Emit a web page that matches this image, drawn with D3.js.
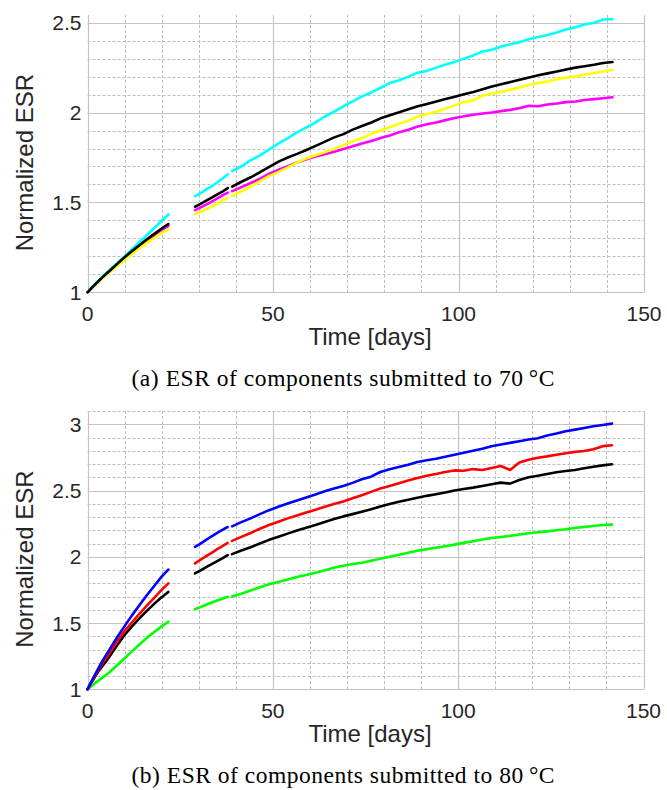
<!DOCTYPE html>
<html><head><meta charset="utf-8">
<script src="https://cdn.jsdelivr.net/npm/d3@7"></script>
<style>body{margin:0;background:#fff}</style>
</head><body><svg id="c" width="667" height="790"></svg>
<script>
// time stamps (days); null values mark measurement gaps
const timesDays = [0,1,2,3,4,5,6,8,10,12,14,16,18,20,21.8, 25,
  29,30.5,32,33.5,35,36.5,37.8, 38.4,
  39,41.5,44,46.5,49,51.5,54,56.5,59,61.5,64,66.5,69,71.5,74,76.5,79,81.5,84,86.5,89,91.5,94,96.5,99,101.5,104,106.5,109,111.5,114,116.5,119,121.5,124,126.5,129,131.5,134,136.5,139,141.5];

const xTicks = [0,50,100,150];
const yTicks70 = [1,1.5,2,2.5];
const yTicks80 = [1,1.5,2,2.5,3];

// ---- 70 °C ----
const cyan70 = [1,1.022,1.045,1.066,1.086,1.106,1.126,1.162,1.200,1.240,1.280,1.318,1.358,1.398,1.433, null,
  1.535,1.552,1.573,1.590,1.612,1.635,1.657, null,
  1.675,1.700,1.735,1.762,1.795,1.828,1.858,1.890,1.918,1.945,1.978,2.005,2.035,2.062,2.090,2.112,2.138,2.165,2.180,2.200,2.222,2.232,2.250,2.268,2.282,2.300,2.318,2.340,2.350,2.368,2.380,2.392,2.408,2.420,2.432,2.445,2.462,2.475,2.490,2.500,2.518,2.520];
const black70 = [1,1.022,1.043,1.063,1.083,1.102,1.120,1.158,1.195,1.230,1.262,1.295,1.325,1.355,1.380, null,
  1.476,1.492,1.510,1.527,1.545,1.562,1.580, null,
  1.588,1.615,1.640,1.668,1.698,1.727,1.750,1.770,1.792,1.815,1.838,1.862,1.880,1.905,1.925,1.945,1.968,1.985,2.002,2.018,2.035,2.048,2.062,2.075,2.088,2.102,2.115,2.130,2.145,2.158,2.170,2.183,2.195,2.208,2.218,2.228,2.240,2.250,2.258,2.266,2.276,2.281];
const yellow70 = [1,1.020,1.040,1.058,1.077,1.095,1.112,1.147,1.180,1.213,1.245,1.275,1.302,1.330,1.350, null,
  1.435,1.448,1.462,1.478,1.495,1.512,1.525, null,
  1.537,1.562,1.590,1.618,1.648,1.670,1.695,1.722,1.745,1.762,1.780,1.798,1.818,1.840,1.858,1.882,1.900,1.920,1.938,1.955,1.978,1.992,2.005,2.022,2.040,2.058,2.068,2.095,2.105,2.115,2.128,2.140,2.155,2.165,2.172,2.185,2.195,2.200,2.212,2.220,2.228,2.238];
const magenta70 = [1,1.021,1.042,1.062,1.082,1.100,1.118,1.155,1.190,1.225,1.257,1.288,1.318,1.347,1.370, null,
  1.457,1.472,1.488,1.505,1.522,1.540,1.555, null,
  1.563,1.585,1.608,1.632,1.660,1.682,1.702,1.722,1.740,1.755,1.768,1.782,1.797,1.812,1.828,1.842,1.858,1.872,1.890,1.905,1.922,1.935,1.945,1.958,1.970,1.980,1.988,1.995,2.000,2.008,2.015,2.025,2.038,2.035,2.045,2.050,2.058,2.062,2.070,2.075,2.080,2.085];

// ---- 80 °C ----
const blue80 = [1,1.056,1.110,1.162,1.212,1.258,1.303,1.393,1.477,1.558,1.635,1.710,1.780,1.850,1.904, null,
  2.075,2.100,2.128,2.155,2.180,2.205,2.225, null,
  2.230,2.262,2.290,2.322,2.352,2.378,2.402,2.425,2.448,2.470,2.495,2.515,2.535,2.558,2.585,2.605,2.640,2.660,2.678,2.695,2.715,2.728,2.740,2.755,2.770,2.785,2.800,2.815,2.835,2.848,2.860,2.872,2.885,2.895,2.915,2.930,2.948,2.960,2.972,2.985,2.995,3.005];
const red80 = [1,1.052,1.102,1.150,1.195,1.235,1.275,1.360,1.440,1.505,1.570,1.632,1.690,1.750,1.799, null,
  1.950,1.978,2.005,2.030,2.058,2.082,2.105, null,
  2.120,2.150,2.180,2.212,2.240,2.265,2.290,2.312,2.335,2.355,2.378,2.398,2.418,2.442,2.465,2.490,2.515,2.535,2.555,2.575,2.595,2.612,2.625,2.640,2.652,2.650,2.662,2.655,2.670,2.685,2.655,2.712,2.732,2.748,2.758,2.770,2.782,2.792,2.798,2.812,2.835,2.842];
const black80 = [1,1.048,1.095,1.138,1.175,1.210,1.250,1.333,1.410,1.475,1.535,1.592,1.645,1.695,1.735, null,
  1.874,1.898,1.922,1.945,1.968,1.990,2.012, null,
  2.020,2.048,2.072,2.100,2.128,2.152,2.175,2.198,2.220,2.240,2.262,2.285,2.305,2.322,2.340,2.358,2.380,2.398,2.415,2.430,2.445,2.460,2.472,2.485,2.500,2.512,2.522,2.535,2.548,2.560,2.552,2.580,2.600,2.612,2.625,2.638,2.648,2.655,2.668,2.680,2.690,2.698];
const green80 = [1,1.022,1.045,1.067,1.088,1.108,1.130,1.182,1.234,1.286,1.338,1.388,1.432,1.475,1.510, null,
  1.605,1.620,1.638,1.655,1.670,1.685,1.698, null,
  1.700,1.722,1.745,1.770,1.792,1.810,1.828,1.848,1.862,1.880,1.898,1.918,1.932,1.945,1.955,1.970,1.985,2.000,2.015,2.030,2.045,2.058,2.068,2.080,2.092,2.105,2.118,2.130,2.142,2.150,2.158,2.168,2.178,2.185,2.192,2.200,2.208,2.218,2.225,2.232,2.240,2.243];

const panels = [
  { series: [{v: magenta70, c: '#ff00ff'}, {v: yellow70, c: '#ffff00'}, {v: cyan70, c: '#00ffff'}, {v: black70, c: '#000000'}],
    yTicks: yTicks70, yDomain: [1, 2.5], yTop: 2.543, yRange: [292.3, 22.7], xRange: [87.5, 644],
    caption: '(a) ESR of components submitted to 70\u2009\u00B0C', topGridLine: false },
  { series: [{v: green80, c: '#00ff00'}, {v: black80, c: '#000000'}, {v: red80, c: '#ff0000'}, {v: blue80, c: '#0000ff'}],
    yTicks: yTicks80, yDomain: [1, 3], yTop: 3.1, yRange: [689.3, 424.3], xRange: [87.5, 643.5],
    caption: '(b) ESR of components submitted to 80\u2009\u00B0C', topGridLine: true }
];

const svg = d3.select('#c');
const crisp = v => Math.round(v) + 0.5;

panels.forEach(p => {
  const x = d3.scaleLinear().domain([0, 150]).range(p.xRange);
  const y = d3.scaleLinear().domain(p.yDomain).range(p.yRange);
  const top = y(p.yTop), bottom = y(p.yDomain[0]);
  const g = svg.append('g');

  // minor grid
  const minorY = d3.range(Math.round((p.yTop - 1) / 0.1) + 1).map(i => +(1 + i * 0.1).toFixed(2))
    .filter(v => Math.abs(v * 2 - Math.round(v * 2)) > 1e-6)
    .filter(v => v <= p.yTop + 1e-9 && (p.topGridLine || y(v) > top + 2));
  const minorX = d3.range(0, 151, 10).filter(v => v % 50 !== 0);
  g.selectAll('.mx').data(minorX).join('line')
    .attr('x1', d => crisp(x(d))).attr('x2', d => crisp(x(d)))
    .attr('y1', top).attr('y2', bottom)
    .attr('stroke', '#bdbdbd').attr('stroke-width', 1).attr('stroke-dasharray', '3,2');
  g.selectAll('.my').data(minorY).join('line')
    .attr('y1', d => crisp(y(d))).attr('y2', d => crisp(y(d)))
    .attr('x1', x(0)).attr('x2', x(150))
    .attr('stroke', '#bdbdbd').attr('stroke-width', 1).attr('stroke-dasharray', '3,2');
  // major grid
  g.selectAll('.Mx').data(xTicks).join('line')
    .attr('x1', d => crisp(x(d))).attr('x2', d => crisp(x(d)))
    .attr('y1', top).attr('y2', bottom + 0.5)
    .attr('stroke', '#c4c4c4').attr('stroke-width', 1.2);
  g.selectAll('.My').data(p.yTicks).join('line')
    .attr('y1', d => crisp(y(d))).attr('y2', d => crisp(y(d)))
    .attr('x1', x(0)).attr('x2', x(150))
    .attr('stroke', '#c4c4c4').attr('stroke-width', 1.2);

  // data lines
  const line = d3.line().defined(d => d[1] != null).x(d => x(d[0])).y(d => y(d[1]));
  p.series.forEach(s => {
    g.append('path').datum(timesDays.map((t, i) => [t, s.v[i]]))
      .attr('d', line).attr('fill', 'none').attr('stroke', s.c)
      .attr('stroke-width', 2.6).attr('stroke-linejoin', 'round').attr('stroke-linecap', 'round');
  });

  // tick labels
  g.selectAll('.xt').data(xTicks).join('text')
    .attr('x', d => x(d)).attr('y', bottom + 28.5)
    .attr('text-anchor', 'middle').attr('font-family', 'Liberation Sans, Arial, sans-serif')
    .attr('font-size', 21).attr('fill', '#262626').text(d => d);
  g.selectAll('.yt').data(p.yTicks).join('text')
    .attr('x', x(0) - 6).attr('y', d => y(d)).attr('dy', '0.36em')
    .attr('text-anchor', 'end').attr('font-family', 'Liberation Sans, Arial, sans-serif')
    .attr('font-size', 21).attr('fill', '#262626').text(d => d);

  // axis labels
  g.append('text').attr('x', 370).attr('y', bottom + 52.5)
    .attr('text-anchor', 'middle').attr('font-family', 'Liberation Sans, Arial, sans-serif')
    .attr('font-size', 24).attr('fill', '#262626').text('Time [days]');
  g.append('text').attr('transform', `translate(33,${(top + bottom) / 2 + 9}) rotate(-90)`)
    .attr('text-anchor', 'middle').attr('font-family', 'Liberation Sans, Arial, sans-serif')
    .attr('font-size', 24).attr('fill', '#262626').text('Normalized ESR');

  // caption
  g.append('text').attr('x', 343).attr('y', bottom + 93.5)
    .attr('text-anchor', 'middle').attr('font-family', 'Liberation Serif, Times New Roman, serif')
    .attr('font-size', 23.5).attr('fill', '#000')
    .attr('textLength', 423).attr('lengthAdjust', 'spacing').text(p.caption);
});
</script></body></html>
